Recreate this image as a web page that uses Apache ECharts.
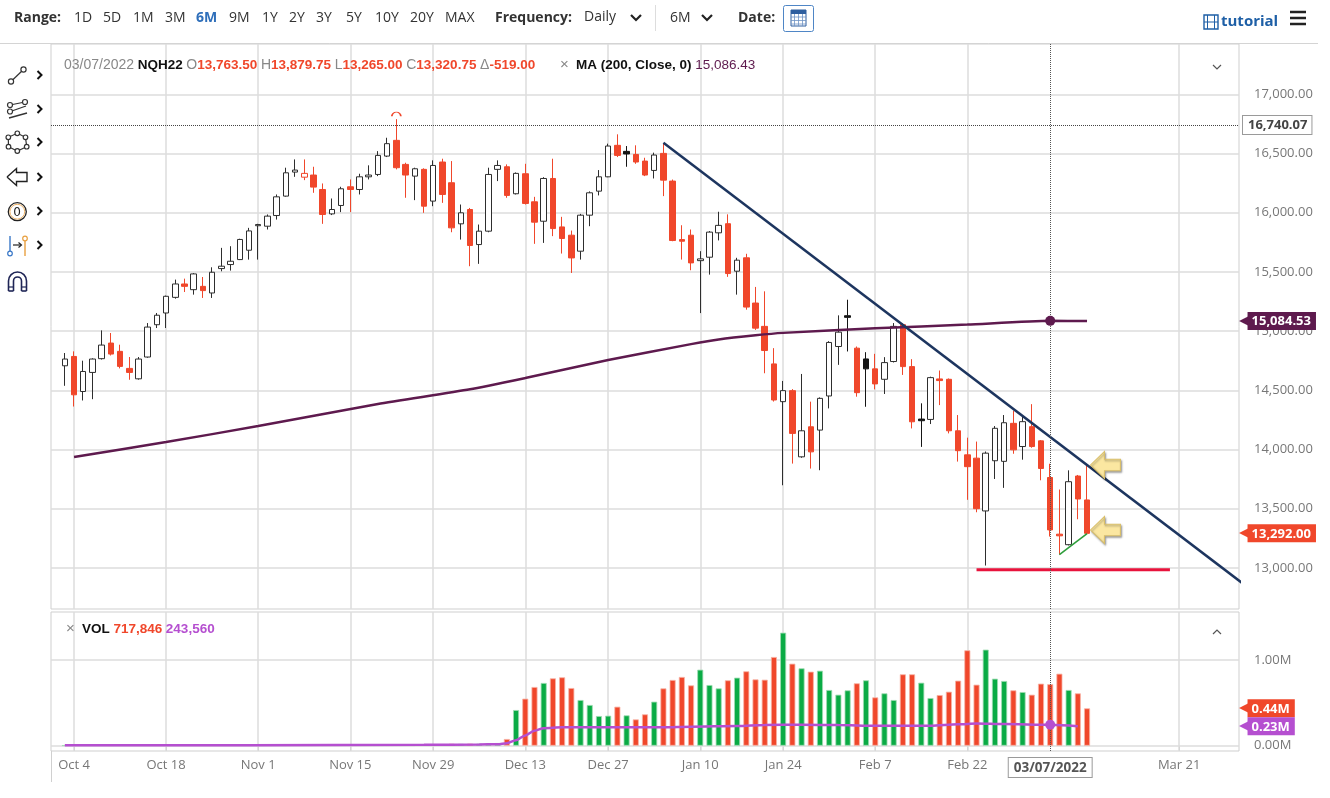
<!DOCTYPE html>
<html><head><meta charset="utf-8">
<script src="https://cdn.jsdelivr.net/npm/echarts@6/dist/echarts.min.js"></script>
<style>html,body{margin:0;padding:0;background:#fff;}#c{width:1330px;height:798px;}</style>
</head><body><div id="c"></div>
<script>
// ---------------- DATA ----------------
const categories = ['09/30/2021',
'10/01/2021','10/04/2021','10/05/2021','10/06/2021','10/07/2021','10/08/2021','10/11/2021','10/12/2021','10/13/2021','10/14/2021','10/15/2021','10/18/2021','10/19/2021','10/20/2021','10/21/2021','10/22/2021','10/25/2021','10/26/2021','10/27/2021','10/28/2021','10/29/2021',
'11/01/2021','11/02/2021','11/03/2021','11/04/2021','11/05/2021','11/08/2021','11/09/2021','11/10/2021','11/11/2021','11/12/2021','11/15/2021','11/16/2021','11/17/2021','11/18/2021','11/19/2021','11/22/2021','11/23/2021','11/24/2021','11/26/2021','11/29/2021','11/30/2021',
'12/01/2021','12/02/2021','12/03/2021','12/06/2021','12/07/2021','12/08/2021','12/09/2021','12/10/2021','12/13/2021','12/14/2021','12/15/2021','12/16/2021','12/17/2021','12/20/2021','12/21/2021','12/22/2021','12/23/2021','12/27/2021','12/28/2021','12/29/2021','12/30/2021','12/31/2021',
'01/03/2022','01/04/2022','01/05/2022','01/06/2022','01/07/2022','01/10/2022','01/11/2022','01/12/2022','01/13/2022','01/14/2022','01/18/2022','01/19/2022','01/20/2022','01/21/2022','01/24/2022','01/25/2022','01/26/2022','01/27/2022','01/28/2022','01/31/2022',
'02/01/2022','02/02/2022','02/03/2022','02/04/2022','02/07/2022','02/08/2022','02/09/2022','02/10/2022','02/11/2022','02/14/2022','02/15/2022','02/16/2022','02/17/2022','02/18/2022','02/22/2022','02/23/2022','02/24/2022','02/25/2022','02/28/2022',
'03/01/2022','03/02/2022','03/03/2022','03/04/2022','03/07/2022','03/08/2022','03/09/2022','03/10/2022','03/11/2022',
'03/12/2022','03/13/2022','03/14/2022','03/15/2022','03/16/2022','03/17/2022','03/18/2022','03/19/2022','03/20/2022','03/21/2022','03/22/2022','03/23/2022','03/24/2022','03/25/2022','03/26/2022','03/27/2022'];

const firstCandleDate = '10/01/2021';

const openP = [14707,14786,14490,14651,14767,14899,14829,14685,14597,14781,15054,15153,15285,15398,15350,15378,15322,15528,15562,15604,15683,
15890,15886,15976,16140,16343,16300,16318,16196,15990,16061,16219,16196,16303,16323,16478,16611,16408,16309,16366,16098,16428,
16253,15906,16027,15731,15844,16366,16388,16160,16329,16092,15928,16289,15880,15810,15675,15979,16182,16303,16569,16518,16492,16436,
16357,16501,16267,15773,15810,15595,15624,15830,15907,15506,15619,15237,15040,14723,14404,14497,13938,14192,14164,14452,
14870,15130,14856,14765,14681,14593,14743,15054,14700,14257,14254,14596,14593,14158,13955,13927,13481,13905,13900,
14221,14025,14193,14073,13763.5,13285,13196,13776,13574];

const highP = [14815,14829,14750,14770,15006,14984,14885,14781,14781,15068,15153,15300,15435,15443,15490,15457,15539,15703,15717,15780,15872,
15906,15985,16154,16380,16450,16450,16388,16247,16120,16219,16281,16329,16400,16520,16633,16790,16422,16380,16375,16442,16456,
16436,16069,16040,15900,16380,16442,16408,16340,16413,16134,16300,16456,15965,15849,15990,16180,16360,16583,16662,16563,16569,16464,
16507,16585,16280,15894,15858,15675,15845,16008,15986,15619,15653,15373,15336,14856,14579,14510,14638,14404,14440,14915,
15133,15265,14870,14822,14808,14780,15068,15068,14763,14390,14615,14667,14600,14291,14100,14067,13983,14198,14291,
14327,14291,14383,14080,13879.75,13662,13824,13785,13861];

const lowP = [14538,14363,14414,14425,14760,14794,14685,14589,14590,14775,15026,15026,15274,15330,15308,15280,15280,15505,15511,15600,15604,
15604,15858,15942,16135,16303,16275,16168,15906,15980,16005,16005,16154,16281,16309,16470,16366,16126,16106,15999,16055,16083,
15835,15773,15548,15568,15835,16267,16126,16154,16069,15737,15745,15802,15655,15491,15604,15886,16146,16300,16470,16388,16413,16309,
16289,16140,15759,15604,15514,15152,15477,15766,15458,15308,15181,15010,14644,14405,13698,13881,13930,13839,13825,14347,
14715,14828,14446,14361,14508,14469,14735,14630,14178,14022,14215,14375,14136,13898,13575,13470,13020,13751,13676,
13964,13914,14015,13740,13265,13112,13190,13411,13285];

const closeP = [14764,14462,14659,14764,14882,14806,14702,14651,14764,15034,15134,15294,15398,15378,15483,15342,15497,15548,15590,15774,15846,
15900,15971,16134,16337,16360,16332,16216,15985,16027,16202,16196,16303,16318,16484,16583,16380,16318,16371,16055,16399,16154,
15872,15999,15723,15844,16323,16399,16146,16332,16078,15920,16289,15866,15782,15618,15979,16168,16303,16563,16484,16496,16428,16318,
16487,16275,15765,15759,15576,15610,15836,15893,15486,15599,15203,15025,14836,14418,14497,14136,14158,13980,14432,14904,
14991,15116,14480,14681,14554,14734,15040,14700,14234,14243,14607,14582,14158,13990,13855,13500,13969,14179,14226,
13997,14235,14025,13839.75,13320.75,13271,13728,13582,13292];

const volumes = [4000,5000,4500,5200,4800,4100,5000,5500,6100,5800,4900,6000,6500,6200,7000,6800,7400,7900,8200,7600,8800,
9100,8700,9400,9900,10200,9600,11000,12500,10800,10300,11800,12100,11500,12900,13600,15400,14200,13000,16800,17500,18900,
22400,21000,24600,23800,27500,31000,78000,416000,549000,685000,732000,786000,798000,673000,533000,475000,
346000,350000,455000,354000,307000,366000,514000,669000,767000,802000,704000,887000,708000,669000,763000,794000,868000,774000,770000,1035000,
1319000,957000,903000,864000,875000,650000,595000,646000,728000,763000,564000,611000,533000,833000,833000,735000,556000,591000,630000,759000,
1113000,712000,1121000,782000,755000,646000,626000,595000,724000,717846,840000,650000,611000,436000];

// 200-day moving average of close, read at selected sessions
const maDates = ['10/04/2021','10/18/2021','11/01/2021','11/18/2021','12/03/2021','12/13/2021','12/27/2021','01/07/2022','01/12/2022','01/19/2022','01/24/2022','02/07/2022','02/22/2022','03/07/2022','03/11/2022'];
const maValues = [13937,14063,14198,14385,14508,14604,14756,14890,14930,14965,14985,15024,15055,15086.43,15084.53];

// volume moving average, read at selected sessions
const vmaDates = ['10/01/2021','10/29/2021','11/26/2021','12/06/2021','12/08/2021','12/09/2021','12/10/2021','12/13/2021','12/14/2021','12/15/2021','12/17/2021','12/27/2021','01/04/2022','01/07/2022','01/14/2022','01/20/2022','01/26/2022','02/01/2022','02/07/2022','02/15/2022','02/18/2022','02/23/2022','02/28/2022','03/07/2022','03/10/2022'];
const vmaValues = [4000,6000,10000,15000,17000,30000,65000,120000,175000,205000,214000,214000,215000,222000,230000,243000,245000,241000,232000,233000,249000,260000,252000,243560,226000];

const priceTicks = [13000,13500,14000,14500,15000,15500,16000,16500,17000];
const volTicks = [0,1000000];
const tickDates = ['10/04/2021','10/18/2021','11/01/2021','11/15/2021','11/29/2021','12/13/2021','12/27/2021','01/10/2022','01/24/2022','02/07/2022','02/22/2022','03/21/2022'];

// drawings
const trendStart = ['01/04/2022', 16591];
const trendEndAtFrameEdge = 12863;           // value where the trend line leaves the plot
const supportLine = [['02/23/2022', 12985], ['03/20/2022', 12985]];
const risingLine = [['03/08/2022', 13112], ['03/11/2022', 13290]];
const arrowMarks = [['03/13/2022', 13869], ['03/13/2022', 13320]];
const highMark = ['11/22/2021', 16790];
const crossDate = '03/07/2022';
const crossPrice = 16740.07;
const symbolName = 'NQH22';

// ---------------- HELPERS ----------------
const RED = '#f0472b', GREEN = '#0aab45', NAVY = '#1d355f', MAC = '#5e1a4e', VMAC = '#b54fd0';
const GRIDC = '#dcdcdc';
const OFF = categories.indexOf(firstCandleDate);
const fmt2 = v => Number(v).toLocaleString('en-US', {minimumFractionDigits: 2, maximumFractionDigits: 2});
const fmtInt = v => Number(v).toLocaleString('en-US', {maximumFractionDigits: 0});
const MONTHS = ['Jan','Feb','Mar','Apr','May','Jun','Jul','Aug','Sep','Oct','Nov','Dec'];
const fmtDate = s => { const p = s.split('/'); return MONTHS[+p[0] - 1] + ' ' + (+p[1]); };

const candleData = categories.map((c, i) => {
  const k = i - OFF;
  if (k < 0 || k >= closeP.length) return '-';
  const o = openP[k], cl = closeP[k];
  const prev = k > 0 ? closeP[k - 1] : o;
  const up = cl >= o, gain = cl >= prev;
  let fill, border;
  if (up && gain) { fill = '#ffffff'; border = '#2e2e2e'; }
  else if (up && !gain) { fill = '#ffffff'; border = RED; }
  else if (!up && gain) { fill = '#151515'; border = '#151515'; }
  else { fill = RED; border = RED; }
  return { value: [o, cl, lowP[k], highP[k]],
    itemStyle: { color: fill, color0: fill, borderColor: border, borderColor0: border } };
});

const volData = categories.map((c, i) => {
  const k = i - OFF;
  if (k < 0 || k >= volumes.length) return '-';
  const prev = k > 0 ? closeP[k - 1] : openP[k];
  const g = closeP[k] >= prev;
  return { value: volumes[k], itemStyle: { color: g ? GREEN : RED, borderColor: g ? '#9fdcb3' : '#f8b3a5', borderWidth: 0.8 } };
});

const maData = maDates.map((d, j) => [d, maValues[j]]);
const vmaData = vmaDates.map((d, j) => [d, vmaValues[j]]);
const trendData = [[categories.indexOf(trendStart[0]), trendStart[1]], [categories.length, trendEndAtFrameEdge]];

const ci = categories.indexOf(crossDate) - OFF;
const hdr = { o: openP[ci], h: highP[ci], l: lowP[ci], c: closeP[ci], d: closeP[ci] - closeP[ci - 1] };
const maAtCross = maValues[maDates.indexOf(crossDate)];
const vmaAtCross = vmaValues[vmaDates.indexOf(crossDate)];
const lastClose = closeP[closeP.length - 1];
const lastMA = maValues[maValues.length - 1];
const lastVol = volumes[volumes.length - 1];
const lastVMA = vmaValues[vmaValues.length - 1];

const hLine = v => ({ yAxis: v });
const vLine = d => ({ xAxis: d });
const invisible = { color: 'rgba(0,0,0,0)', width: 1, type: 'solid' };
const tagLabel = (txt, bg) => ({
  show: true, position: 'end', distance: 0,
  formatter: '{a|◀}{b|' + txt + '}',
  rich: {
    a: { color: bg, fontSize: 15, fontFamily: 'DejaVu Sans', padding: [0, -3, 0, 0] },
    b: { backgroundColor: bg, color: '#fff', fontWeight: 'bold', fontSize: 13, fontFamily: 'Open Sans', padding: [3, 5, 2, 4], lineHeight: 16 }
  }
});

// ---------------- LAYOUT / UI ----------------
const FONT = 'Open Sans';
const g = [];
const txt = (x, y, text, o) => g.push(Object.assign({ type: 'text', x: x, y: y, silent: true, z: 100,
  style: Object.assign({ text: text, fill: '#333', fontSize: 14, fontFamily: FONT, verticalAlign: 'middle', align: 'left' }, (o || {}))
}));
const ln = (x1, y1, x2, y2, stroke, lw) => g.push({ type: 'line', silent: true, z: 100, shape: { x1, y1, x2, y2 }, style: { stroke: stroke, lineWidth: lw || 1 } });
const circ = (cx, cy, r, stroke, fill, lw) => g.push({ type: 'circle', silent: true, z: 100, shape: { cx, cy, r }, style: { stroke: stroke, fill: fill || '#fff', lineWidth: lw || 1.2 } });
const pl = (pts, stroke, lw, fill) => g.push({ type: fill ? 'polygon' : 'polyline', silent: true, z: 100, shape: { points: pts }, style: { stroke: stroke, lineWidth: lw || 1.2, fill: fill || null } });
const arc = (cx, cy, r, stroke, lw) => g.push({ type: 'arc', silent: true, z: 100, shape: { cx, cy, r, startAngle: Math.PI, endAngle: 2 * Math.PI, clockwise: true }, style: { stroke: stroke, lineWidth: lw, fill: null } });

// top toolbar
ln(0, 43.5, 1318, 43.5, '#d4d4d4', 1);
ln(51.5, 751, 51.5, 782, '#d0d0d0', 1);
txt(14, 18, 'Range:', { fontWeight: 'bold', fill: '#333' });
const rangeItems = ['1D','5D','1M','3M','6M','9M','1Y','2Y','3Y','5Y','10Y','20Y','MAX'];
const rangeX = [74,103,133,165,196,229,262,289,316,346,375,410,445];
rangeItems.forEach((r, i) => txt(rangeX[i], 18, r, r === '6M' ? { fill: '#2f6fba', fontWeight: 'bold' } : { fill: '#333' }));
txt(495, 18, 'Frequency:', { fontWeight: 'bold' });
txt(584, 17, 'Daily', { fill: '#333' });
pl([[631, 15], [636, 20], [641, 15]], '#222', 2.2);
ln(655.5, 5, 655.5, 31, '#dddddd', 1);
txt(670, 18, '6M', { fill: '#333' });
pl([[702, 15], [707, 20], [712, 15]], '#222', 2.2);
txt(738, 18, 'Date:', { fontWeight: 'bold' });
g.push({ type: 'rect', silent: true, z: 100, shape: { x: 783.5, y: 5.5, width: 30, height: 26, r: 2 }, style: { stroke: '#4f86c6', fill: '#fff', lineWidth: 1 } });
g.push({ type: 'rect', silent: true, z: 100, shape: { x: 791, y: 10, width: 15, height: 16 }, style: { stroke: '#2f5f9f', fill: '#fff', lineWidth: 1 } });
g.push({ type: 'rect', silent: true, z: 100, shape: { x: 791, y: 10, width: 15, height: 4 }, style: { fill: '#2f5f9f' } });
[17, 20.5, 24].forEach(yy => ln(791, yy, 806, yy, '#6f93c4', 0.8));
[794.5, 798.5, 802.5].forEach(xx => ln(xx, 14, xx, 26, '#6f93c4', 0.8));
g.push({ type: 'rect', silent: true, z: 100, shape: { x: 1204, y: 15, width: 14, height: 14 }, style: { stroke: '#1e5fa6', fill: '#fff', lineWidth: 1.4 } });
ln(1207.5, 15, 1207.5, 29, '#1e5fa6', 1); ln(1214.5, 15, 1214.5, 29, '#1e5fa6', 1);
ln(1204, 22, 1218, 22, '#1e5fa6', 1);
txt(1221, 22, 'tutorial', { fill: '#1e5fa6', fontWeight: 'bold', fontSize: 15 });
[12, 18, 24].forEach(yy => ln(1290, yy, 1306, yy, '#222', 2.5));

// price header
txt(64, 65, '{d|' + crossDate + '} {b|' + symbolName + '} {g|O}{r|' + fmt2(hdr.o) + '} {g|H}{r|' + fmt2(hdr.h) + '} {g|L}{r|' + fmt2(hdr.l) + '} {g|C}{r|' + fmt2(hdr.c) + '} {g|Δ}{r|' + fmt2(hdr.d) + '}', {
  rich: {
    d: { fill: '#888', fontSize: 14, fontFamily: 'Liberation Sans' },
    b: { fill: '#111', fontSize: 13.5, fontWeight: 'bold', fontFamily: 'Liberation Sans' },
    g: { fill: '#888', fontSize: 14, fontFamily: 'Liberation Sans' },
    r: { fill: RED, fontSize: 13.5, fontWeight: 'bold', fontFamily: 'Liberation Sans' }
  }
});
txt(560, 65, '{x|×}  {b|MA (200, Close, 0)} {m|' + fmt2(maAtCross) + '}', {
  rich: {
    x: { fill: '#888', fontSize: 15, fontFamily: 'Liberation Sans' },
    b: { fill: '#111', fontSize: 13.5, fontWeight: 'bold', fontFamily: 'Liberation Sans' },
    m: { fill: MAC, fontSize: 13.5, fontFamily: 'Liberation Sans' }
  }
});
pl([[1213, 65], [1217, 69], [1221, 65]], '#555', 1.2);
// volume header
txt(66, 629, '{x|×}  {b|VOL} {r|' + fmtInt(volumes[ci]) + '} {p|' + fmtInt(vmaAtCross) + '}', {
  rich: {
    x: { fill: '#888', fontSize: 15, fontFamily: 'Liberation Sans' },
    b: { fill: '#111', fontSize: 13.5, fontWeight: 'bold', fontFamily: 'Liberation Sans' },
    r: { fill: RED, fontSize: 13.5, fontWeight: 'bold', fontFamily: 'Liberation Sans' },
    p: { fill: VMAC, fontSize: 13.5, fontWeight: 'bold', fontFamily: 'Liberation Sans' }
  }
});
pl([[1213, 634], [1217, 630], [1221, 634]], '#555', 1.2);

// left drawing toolbar
const chev = y => pl([[37.5, y - 4], [41.5, y], [37.5, y + 4]], '#111', 2);
ln(11, 81.5, 23.5, 69.5, '#333', 1.2); circ(11, 81.5, 2.6, '#333'); circ(23.5, 69.5, 2.6, '#333'); chev(75);
ln(10, 105, 25, 102, '#333', 1.2); ln(9, 112, 26, 106, '#333', 1.2); ln(9, 118, 27, 113, '#333', 1.4);
circ(10, 105, 2.5, '#333'); circ(25, 102, 2.5, '#333'); circ(10, 111.5, 2.5, '#333'); chev(109);
const oct = [[17.3, 133.3], [25.5, 137.3], [26.7, 146.7], [17.3, 151], [8.5, 146.7], [8.3, 137.3]];
pl(oct.concat([oct[0]]), '#333', 1.2); oct.forEach(p => circ(p[0], p[1], 2.3, '#333')); chev(142);
pl([[7, 177], [16.5, 168.5], [16.5, 172.5], [27, 172.5], [27, 181.5], [16.5, 181.5], [16.5, 185.5], [7, 177]], '#222', 1.4); chev(177);
circ(17.3, 211.7, 9, '#222', '#fff', 1.3); circ(17.3, 211.7, 7.4, '#e8a040', 'none', 0.8);
txt(13.3, 212.5, '0', { fontSize: 12, fill: '#222', fontFamily: 'DejaVu Sans' }); chev(211);
ln(10, 236, 10, 251, '#3a78c8', 1.4); circ(10, 253.5, 2.3, '#3a78c8');
ln(13, 245, 21, 245, '#222', 1.2); pl([[18.5, 242.5], [21.5, 245], [18.5, 247.5]], '#222', 1.2);
ln(25, 241, 25, 256, '#e8a040', 1.4); circ(25, 238.5, 2.3, '#e8a040'); chev(245);
// magnet (outlined horseshoe)
arc(17.5, 281, 9, '#1f2556', 1.6); arc(17.5, 281, 4, '#1f2556', 1.6);
ln(8.5, 281, 8.5, 291, '#1f2556', 1.6); ln(26.5, 281, 26.5, 291, '#1f2556', 1.6);
ln(13.5, 281, 13.5, 291, '#1f2556', 1.6); ln(21.5, 281, 21.5, 291, '#1f2556', 1.6);
ln(8.5, 291, 13.5, 291, '#1f2556', 1.6); ln(21.5, 291, 26.5, 291, '#1f2556', 1.6);
ln(8.5, 287, 13.5, 287, '#1f2556', 1.2); ln(21.5, 287, 26.5, 287, '#1f2556', 1.2);

// ---------------- CHART ----------------
const chart = echarts.init(document.getElementById('c'), null, { renderer: 'canvas' });
const showTick = (idx, val) => tickDates.indexOf(val) >= 0;
const gridLineStyle = { color: GRIDC, width: 1.5, type: 'solid' };

chart.setOption({
  animation: false,
  backgroundColor: '#fff',
  grid: [
    { left: 51, top: 44, width: 1188, height: 565, show: true, borderColor: '#cfcfcf', borderWidth: 1, backgroundColor: 'transparent' },
    { left: 51, top: 612, width: 1188, height: 139, show: true, borderColor: '#cfcfcf', borderWidth: 1, backgroundColor: 'transparent' }
  ],
  xAxis: [
    { gridIndex: 0, type: 'category', data: categories, boundaryGap: true,
      axisLine: { show: false }, axisTick: { show: false }, axisLabel: { show: false }, splitLine: { show: false } },
    { gridIndex: 1, type: 'category', data: categories, boundaryGap: true,
      axisLine: { show: false },
      axisTick: { show: true, alignWithLabel: true, interval: showTick, length: 5, lineStyle: { color: '#c4c4c4', width: 1 } },
      axisLabel: { interval: showTick, formatter: fmtDate, color: '#777', fontSize: 13, fontFamily: FONT, margin: 8 },
      splitLine: { show: false } }
  ],
  yAxis: [
    { gridIndex: 0, type: 'value', position: 'right', min: 12652.9, max: 17424.8, scale: true,
      axisLine: { show: false }, axisTick: { show: false, customValues: priceTicks }, splitLine: { show: false },
      axisLabel: { customValues: priceTicks, formatter: v => fmt2(v), color: '#777', fontSize: 13, fontFamily: FONT, margin: 15 } },
    { gridIndex: 1, type: 'value', position: 'right', min: -61800, max: 1560100,
      axisLine: { show: false }, axisTick: { show: false, customValues: volTicks }, splitLine: { show: false },
      axisLabel: { customValues: volTicks, formatter: v => (v / 1e6).toFixed(2) + 'M', color: '#777', fontSize: 13, fontFamily: FONT, margin: 15 } }
  ],
  series: [
    { name: 'gridP', type: 'line', xAxisIndex: 0, yAxisIndex: 0, data: [], silent: true, z: 1,
      markLine: { silent: true, symbol: ['none', 'none'], z: 1, label: { show: false }, lineStyle: gridLineStyle,
        data: priceTicks.map(hLine).concat(tickDates.map(vLine)) } },
    { name: 'gridV', type: 'line', xAxisIndex: 1, yAxisIndex: 1, data: [], silent: true, z: 1,
      markLine: { silent: true, symbol: ['none', 'none'], z: 1, label: { show: false }, lineStyle: gridLineStyle,
        data: volTicks.map(hLine).concat(tickDates.map(vLine)) } },
    { name: symbolName, type: 'candlestick', xAxisIndex: 0, yAxisIndex: 0, data: candleData, z: 2,
      barWidth: 6, itemStyle: { borderWidth: 1 },
      markPoint: { silent: true, z: 6, label: { show: false },
        data: [{ coord: highMark, symbol: 'path://M0,6 A6,6 0 0 1 12,6', symbolSize: [9, 4], symbolOffset: [0, -5],
          itemStyle: { color: 'rgba(0,0,0,0)', borderColor: RED, borderWidth: 1.2 } }] },
      markLine: { silent: true, symbol: ['none', 'none'], z: 7,
        data: [{ yAxis: lastClose, lineStyle: invisible, label: tagLabel(fmt2(lastClose), RED) }] } },
    { name: 'MA', type: 'line', xAxisIndex: 0, yAxisIndex: 0, data: maData, symbol: 'none', connectNulls: true, z: 3,
      smooth: 0.2,
      lineStyle: { color: MAC, width: 2.5 },
      markPoint: { silent: true, z: 6, label: { show: false },
        data: [{ coord: [crossDate, maAtCross], symbol: 'circle', symbolSize: 10, itemStyle: { color: MAC } }] },
      markLine: { silent: true, symbol: ['none', 'none'], z: 7,
        data: [{ yAxis: lastMA, lineStyle: invisible, label: tagLabel(fmt2(lastMA), MAC) }] } },
    { name: 'trend', type: 'line', xAxisIndex: 0, yAxisIndex: 0, data: trendData, symbol: 'none', clip: true, z: 4,
      lineStyle: { color: NAVY, width: 2.5 } },
    { name: 'support', type: 'line', xAxisIndex: 0, yAxisIndex: 0, data: supportLine, symbol: 'none', z: 4,
      lineStyle: { color: '#e8133c', width: 3 } },
    { name: 'rising', type: 'line', xAxisIndex: 0, yAxisIndex: 0, data: risingLine, symbol: 'none', z: 4,
      lineStyle: { color: '#2f9e3c', width: 1.6 },
      markPoint: { silent: true, z: 6, label: { show: false },
        data: arrowMarks.map(c => ({ coord: c, symbol: 'path://M0,14L14,0L14,8L30,8L30,20L14,20L14,28Z', symbolSize: [30, 27],
          itemStyle: { color: '#fbe7a1', borderColor: '#d9bf6a', borderWidth: 1, shadowColor: 'rgba(0,0,0,0.35)', shadowBlur: 2, shadowOffsetX: 1, shadowOffsetY: 1.5 } })) } },
    { name: 'crossP', type: 'line', xAxisIndex: 0, yAxisIndex: 0, data: [], silent: true, z: 6,
      markLine: { silent: true, symbol: ['none', 'none'], z: 6,
        data: [
          { yAxis: crossPrice, lineStyle: { type: 'dotted', color: '#444', width: 1 },
            label: { show: true, position: 'end', distance: 4, formatter: fmt2(crossPrice), color: '#444', fontWeight: 'bold', fontSize: 13,
              fontFamily: FONT, backgroundColor: '#fff', borderColor: '#9a9a9a', borderWidth: 1, padding: [3, 4, 2, 5] } },
          { xAxis: crossDate, lineStyle: { type: 'dotted', color: '#555', width: 1 }, label: { show: false } }
        ] } },
    { name: 'VOL', type: 'bar', xAxisIndex: 1, yAxisIndex: 1, data: volData, barWidth: 6, z: 2,
      markLine: { silent: true, symbol: ['none', 'none'], z: 7,
        data: [{ yAxis: lastVol, lineStyle: invisible, label: tagLabel((lastVol / 1e6).toFixed(2) + 'M', RED) }] } },
    { name: 'VOLMA', type: 'line', xAxisIndex: 1, yAxisIndex: 1, data: vmaData, symbol: 'none', connectNulls: true, z: 3,
      smooth: 0.3, smoothMonotone: 'x',
      lineStyle: { color: VMAC, width: 2.5 },
      markPoint: { silent: true, z: 6, label: { show: false },
        data: [{ coord: [crossDate, vmaAtCross], symbol: 'circle', symbolSize: 10, itemStyle: { color: VMAC } }] },
      markLine: { silent: true, symbol: ['none', 'none'], z: 8,
        data: [{ yAxis: lastVMA, lineStyle: invisible, label: tagLabel((lastVMA / 1e6).toFixed(2) + 'M', VMAC) }] } },
    { name: 'crossV', type: 'line', xAxisIndex: 1, yAxisIndex: 1, data: [], silent: true, z: 6,
      markLine: { silent: true, symbol: ['none', 'none'], z: 6,
        data: [{ xAxis: crossDate, lineStyle: { type: 'dotted', color: '#555', width: 1 },
          label: { show: true, position: 'start', distance: 7, formatter: crossDate, color: '#555', fontWeight: 'bold', fontSize: 13.5,
            fontFamily: FONT, backgroundColor: '#fff', borderColor: '#9a9a9a', borderWidth: 1, padding: [3, 5, 2, 5] } }] } }
  ],
  graphic: g
});
</script>
</body></html>
